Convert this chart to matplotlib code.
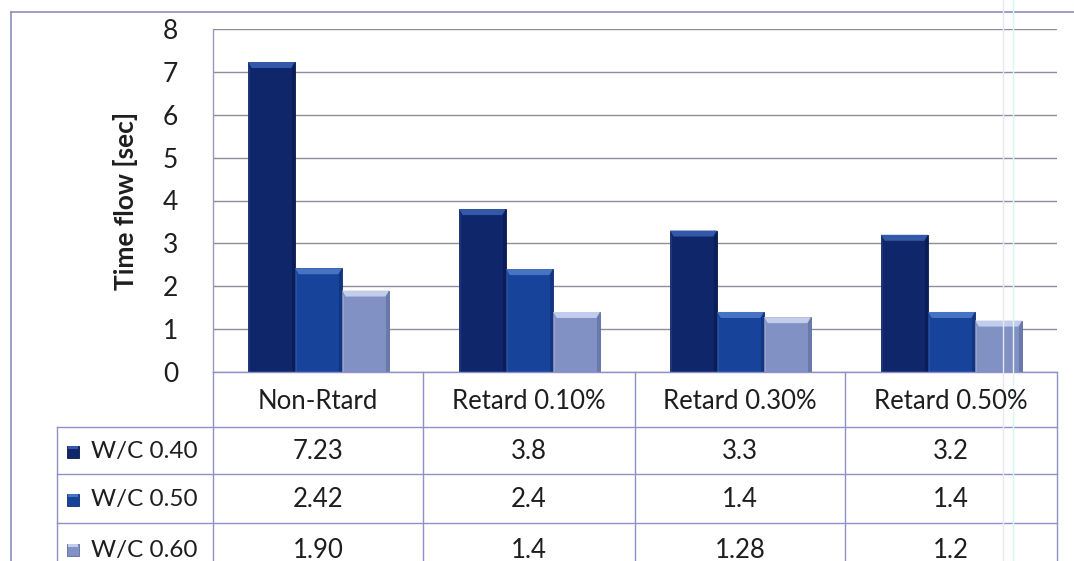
import matplotlib
matplotlib.use("Agg")
import matplotlib.pyplot as plt
from matplotlib.patches import Polygon, Rectangle
from matplotlib.lines import Line2D
import numpy as np

plt.rcParams['font.family'] = ['Lato', 'DejaVu Sans']

categories = ["Non-Rtard", "Retard 0.10%", "Retard 0.30%", "Retard 0.50%"]
series_names = ["W/C 0.40", "W/C 0.50", "W/C 0.60"]
wc040 = [7.23, 3.8, 3.3, 3.2]
wc050 = [2.42, 2.4, 1.4, 1.4]
wc060 = [1.90, 1.4, 1.28, 1.2]
table_text = [
    ["7.23", "3.8", "3.3", "3.2"],
    ["2.42", "2.4", "1.4", "1.4"],
    ["1.90", "1.4", "1.28", "1.2"],
]
y_ticks = [0, 1, 2, 3, 4, 5, 6, 7, 8]
y_label = "Time flow [sec]"

series = [wc040, wc050, wc060]
# body, top highlight, side shade
palette = [
    ("#0f266a", "#3459a8", "#08184a"),
    ("#17439a", "#4674c2", "#0e2d70"),
    ("#8291c4", "#c2cdeb", "#5a6a9c"),
]

W, H = 1074, 561
fig = plt.figure(figsize=(W / 100, H / 100), dpi=100)
fig.patch.set_facecolor("white")


def fx(px):
    return px / W


def fy(py):
    return 1 - py / H


x_left, x_right = 213, 1057
y_top, y_zero = 29, 372
ax = fig.add_axes([fx(x_left), fy(y_zero), fx(x_right - x_left), (y_zero - y_top) / H])
ax.set_xlim(0, len(categories))
ax.set_ylim(0, 8)
ax.set_yticks(y_ticks)
ax.set_yticklabels([str(t) for t in y_ticks], fontsize=19, color="#1e1e1e")
ax.tick_params(axis="y", length=0, pad=25)
ax.set_xticks([])
for s in ["top", "right", "bottom"]:
    ax.spines[s].set_visible(False)
ax.spines["left"].set_color("#9a9ab8")
ax.spines["left"].set_linewidth(1.0)
ax.yaxis.grid(True, color="#8e8e9e", linewidth=1.0)
ax.set_axisbelow(True)
ax.set_ylabel(y_label, fontsize=19, fontweight="bold", color="#1e1e1e", labelpad=18)

bar_w = 0.223
bev_y = 0.14
bev_x = 0.018
x = np.arange(len(categories)) + 0.5
for i, vals in enumerate(series):
    body, light, dark = palette[i]
    xs = x + (i - 1) * bar_w
    ax.bar(xs, vals, width=bar_w, color=body, edgecolor=dark, linewidth=0.6, zorder=3)
    for xc, v in zip(xs, vals):
        l, r = xc - bar_w / 2, xc + bar_w / 2
        # bevelled top edge
        ax.add_patch(Polygon([(l, v), (r, v), (r - bev_x, v - bev_y), (l + bev_x, v - bev_y)],
                             closed=True, facecolor=light, edgecolor="none", zorder=4))
        # shaded right edge
        ax.add_patch(Polygon([(r, v), (r, 0), (r - bev_x * 0.7, 0), (r - bev_x * 0.7, v - bev_y)],
                             closed=True, facecolor=dark, edgecolor="none", alpha=0.6, zorder=4))
        # soft highlight on left edge
        ax.add_patch(Polygon([(l, v), (l, 0), (l + bev_x * 0.6, 0), (l + bev_x * 0.6, v - bev_y)],
                             closed=True, facecolor=light, edgecolor="none", alpha=0.3, zorder=4))

# data table beneath the plot
line_c = "#9090c8"
col_edges = [213, 423, 635, 845, 1057]
row_edges = [372, 427, 474, 523, 575]
legend_left = 57


def hline(y, x0, x1, color=line_c, lw=1.0):
    fig.add_artist(Line2D([fx(x0), fx(x1)], [fy(y), fy(y)], color=color, lw=lw))


def vline(xp, y0, y1, color=line_c, lw=1.0):
    fig.add_artist(Line2D([fx(xp), fx(xp)], [fy(y0), fy(y1)], color=color, lw=lw))


hline(row_edges[0], col_edges[0], col_edges[-1])
for yy in row_edges[1:4]:
    hline(yy, legend_left, col_edges[-1])
for xx in col_edges:
    vline(xx, row_edges[0], H)
vline(legend_left, row_edges[1], H)

cell_fs = 18.5
for j, cat in enumerate(categories):
    cx = (col_edges[j] + col_edges[j + 1]) / 2
    fig.text(fx(cx), fy((row_edges[0] + row_edges[1]) / 2 + 2), cat, ha="center", va="center",
             fontsize=cell_fs, color="#1e1e1e")
for i in range(3):
    cy = (row_edges[i + 1] + row_edges[i + 2]) / 2 + 1
    for j in range(len(categories)):
        cx = (col_edges[j] + col_edges[j + 1]) / 2
        fig.text(fx(cx), fy(cy), table_text[i][j], ha="center", va="center",
                 fontsize=cell_fs, color="#1e1e1e")
    body, light, dark = palette[i]
    fig.add_artist(Rectangle((fx(67), fy(cy + 6)), fx(12), 12 / H, facecolor=body,
                             edgecolor=dark, lw=0.6))
    fig.add_artist(Rectangle((fx(68), fy(cy - 3)), fx(10), 3 / H, facecolor=light,
                             edgecolor="none"))
    fig.text(fx(91), fy(cy), series_names[i], ha="left", va="center", fontsize=17.5,
             color="#1e1e1e")

# outer chart frame
frame_c = "#8a8fc0"
hline(12, 11, W, color=frame_c, lw=1.2)
vline(11, 12, H, color=frame_c, lw=1.2)

# faint vertical streaks on the right
vline(1003, 0, H, color="#e6e6f6", lw=1.0)
vline(1013, 0, H, color="#dff4f6", lw=1.0)

fig.savefig("out.png", dpi=100)
